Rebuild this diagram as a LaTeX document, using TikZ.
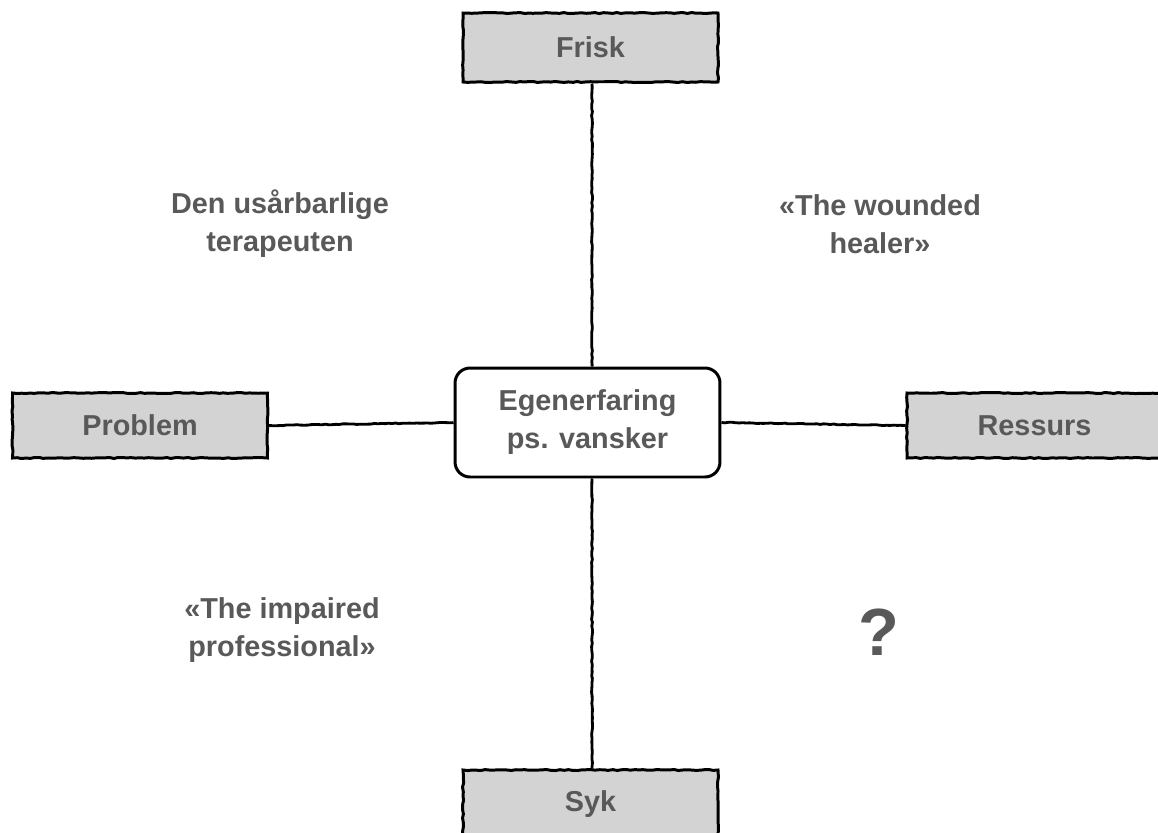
\documentclass[tikz,border=0pt]{standalone}
\usepackage{fontspec}
\setmainfont{Liberation Sans}
\usetikzlibrary{decorations.pathmorphing}

\definecolor{boxgray}{HTML}{D3D3D3}
\definecolor{textgray}{HTML}{595959}

\tikzset{
    sketch/.style={draw=black, line width=1.7pt, decorate,
        decoration={random steps, segment length=2.5pt, amplitude=0.3pt}},
    pole/.style={sketch, fill=boxgray, minimum width=5.1cm, minimum height=1.38cm},
    label/.style={text=textgray, font=\bfseries\fontsize{16.4}{21.6}\selectfont, align=center},
    link/.style={draw=black, line width=1.6pt, decorate,
        decoration={random steps, segment length=2pt, amplitude=0.25pt}}
}

\begin{document}
\begin{tikzpicture}[x=0.02cm, y=-0.02cm]
        \useasboundingbox (0, 0) rectangle (1158, 832);
        \clip (0, 0) rectangle (1158, 832);

        % Pieces
        \node[pole, label] (frisk) at (590.5, 47.5) {Frisk};
        \node[pole, label] (syk) at (590.5, 804.5) {Syk};
        \node[pole, label, minimum height=1.3cm] (problem) at (140, 425.5) {Problem};
        \node[pole, label, minimum height=1.3cm] (ressurs) at (1034.5, 425.5) {Ressurs};
        \node[draw=black, line width=1.7pt, label, fill=white, rounded corners=0.3cm, minimum width=5.3cm, minimum height=2.18cm] (egen) at (587.5, 422.5) {Egenerfaring\\ps. vansker};

        \node[label] (usaarbar) at (280, 224) {Den usårbarlige\\terapeuten};
        \node[label] (wounded) at (880, 224) {«The wounded\\healer»};
        \node[label] (impaired) at (282, 630) {«The impaired\\professional»};
        \node[text=textgray, font=\bfseries\fontsize{38}{40}\selectfont] (question) at (879, 632) {?};

        % Lines
        \coordinate (axis) at (592, 0);
        \draw[link] (axis |- frisk.south) -- (axis |- egen.north);
        \draw[link] (axis |- egen.south) -- (axis |- syk.north);
        \draw[link] (problem.east) -- (egen.west);
        \draw[link] (egen.east) -- (ressurs.west);
    \end{tikzpicture}
\end{document}
